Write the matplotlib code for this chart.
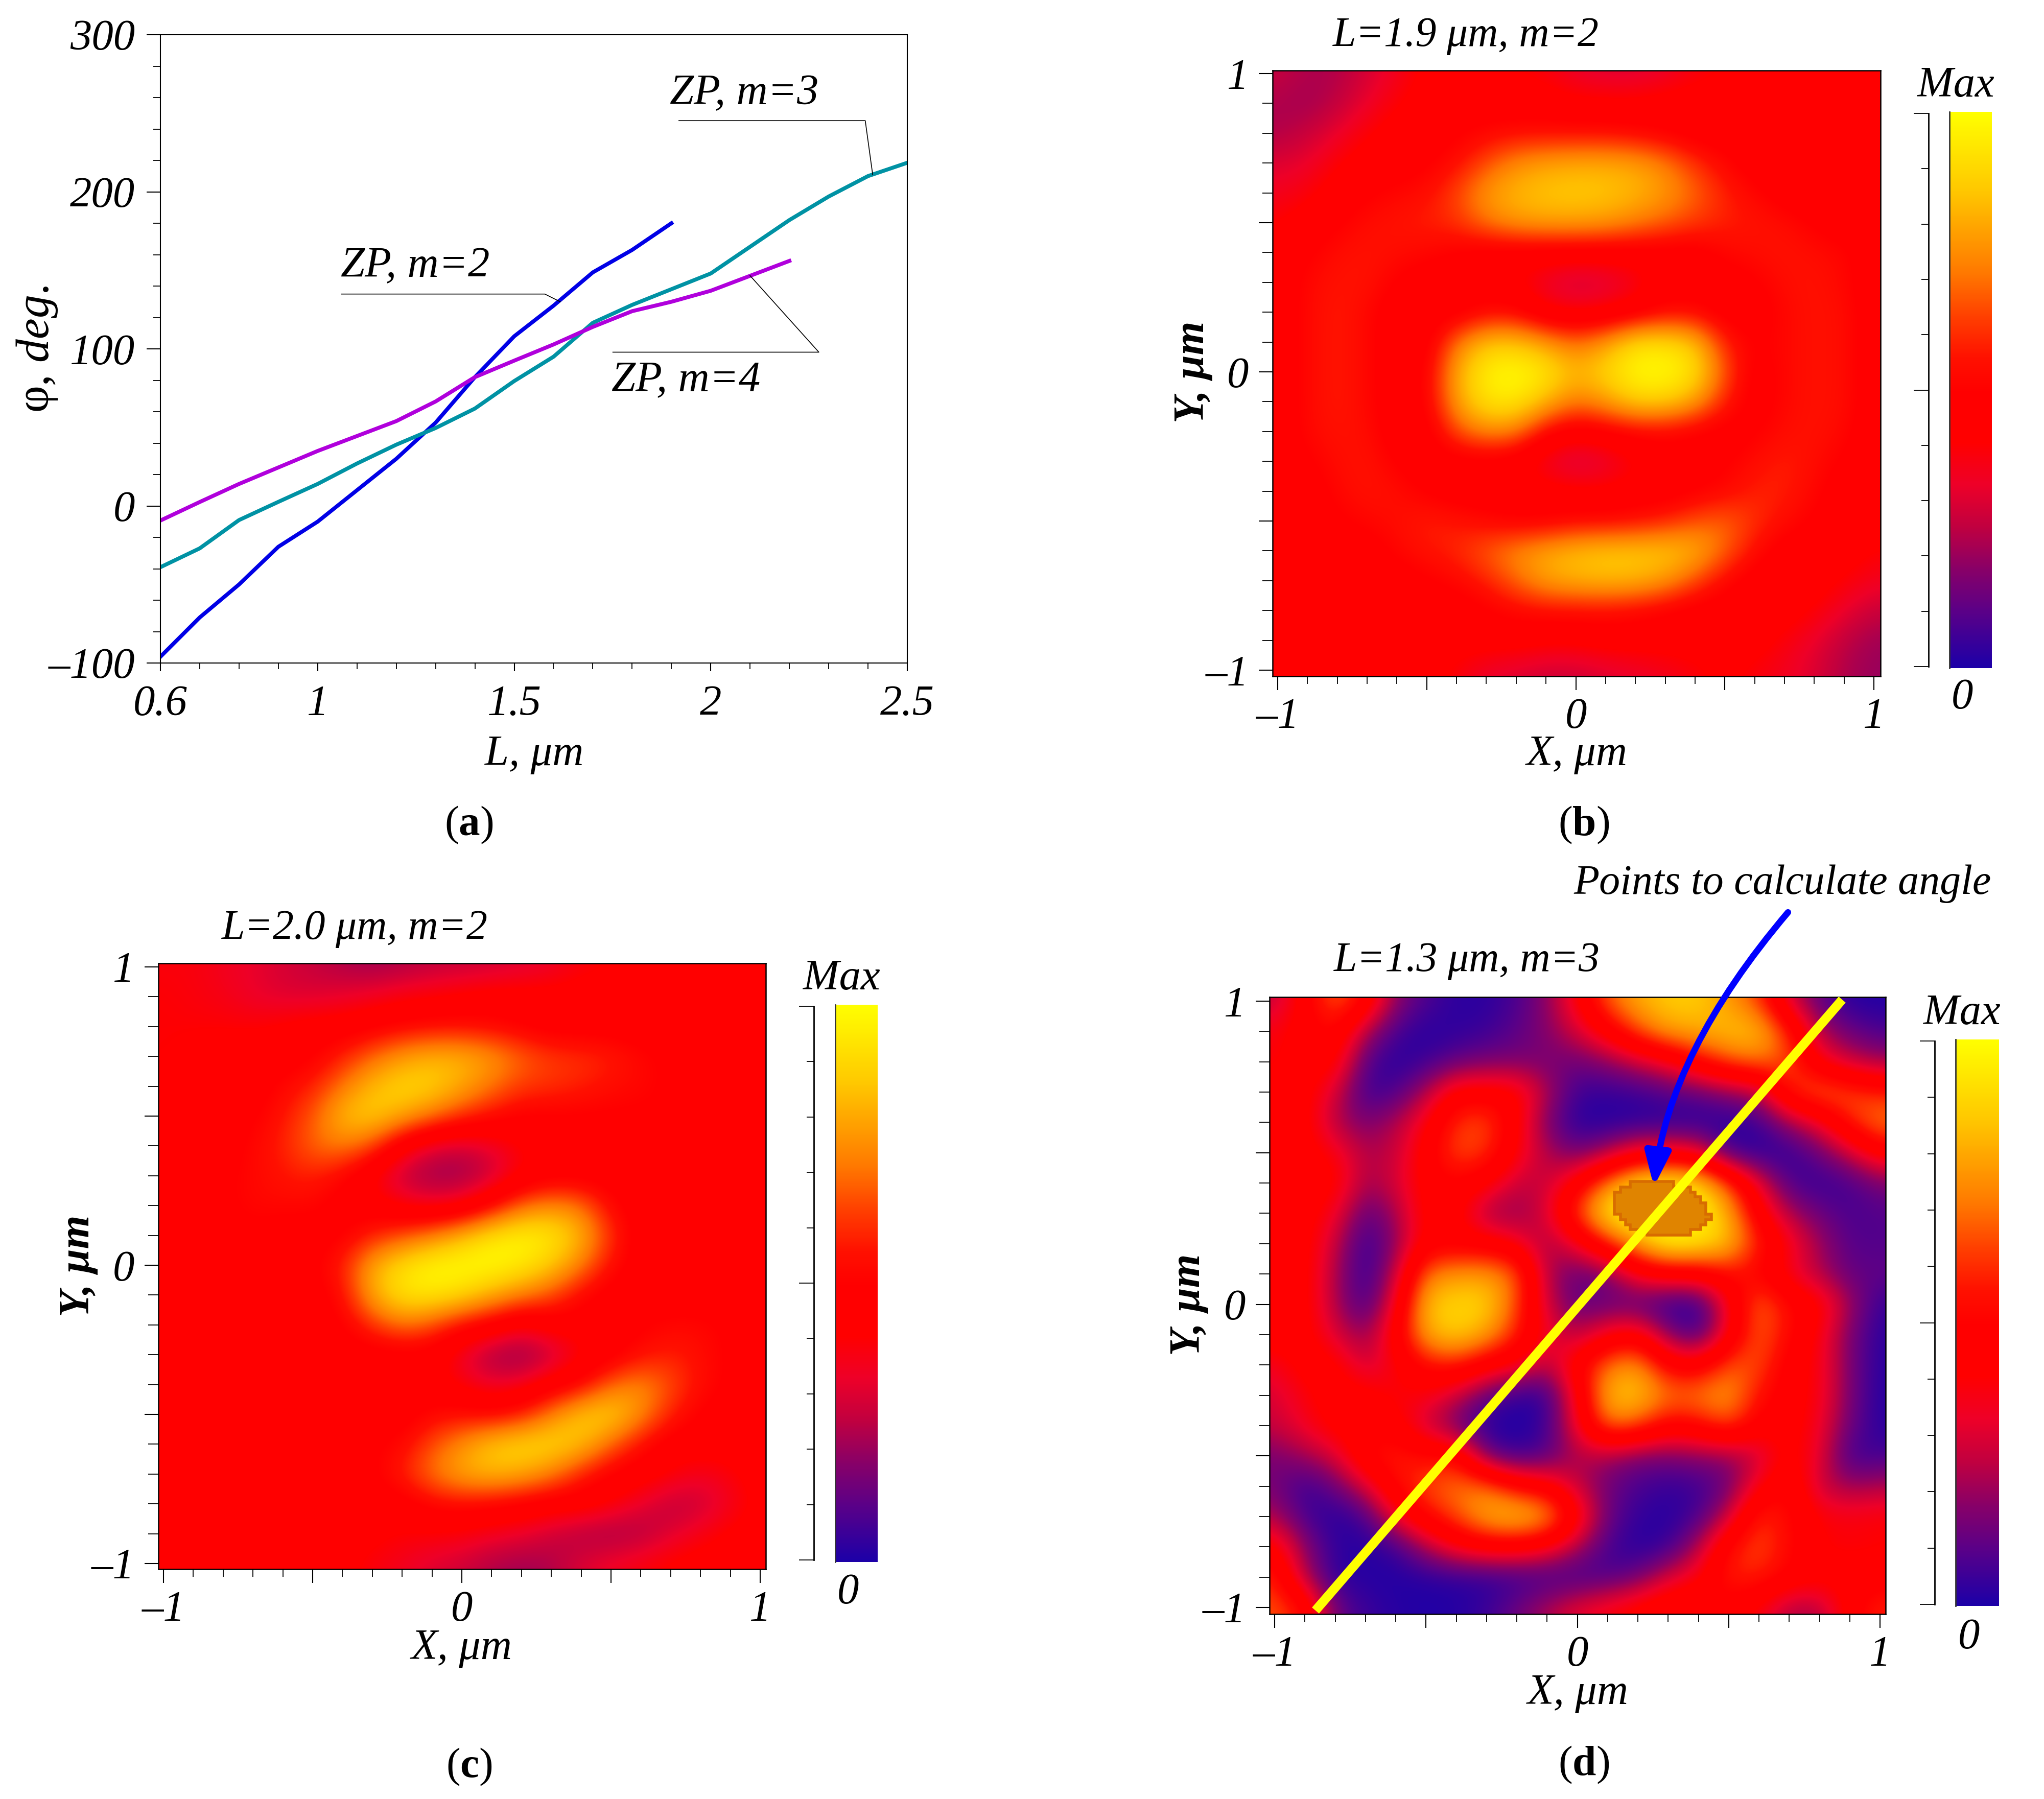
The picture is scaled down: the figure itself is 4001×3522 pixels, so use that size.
import numpy as np
import matplotlib
matplotlib.use('Agg')
import matplotlib.pyplot as plt
from matplotlib.colors import LinearSegmentedColormap, Normalize
from matplotlib.cm import ScalarMappable
from matplotlib.patches import FancyArrowPatch, Polygon
from matplotlib.path import Path
from matplotlib.ticker import FixedLocator, FixedFormatter, NullFormatter

plt.rcParams['font.family'] = ['Liberation Serif', 'DejaVu Serif']
plt.rcParams['mathtext.fontset'] = 'custom'
plt.rcParams['mathtext.rm'] = 'Liberation Serif'
plt.rcParams['mathtext.it'] = 'Liberation Serif:italic'
plt.rcParams['mathtext.bf'] = 'Liberation Serif:bold'

# ---- panel (a) data
L_m2 = [0.6,0.7,0.8,0.9,1.0,1.1,1.2,1.3,1.4,1.5,1.6,1.7,1.8,1.9]
phi_m2 = [-96,-71,-50,-26,-10,10,30,53,82,108,127.5,148.7,163,180]
L_m3 = [0.6,0.7,0.8,0.9,1.0,1.1,1.2,1.3,1.4,1.5,1.6,1.7,1.8,1.9,2.0,2.1,2.2,2.3,2.4,2.5]
phi_m3 = [-39,-27,-9,2.6,14,27,39,49.6,62,79.5,95,116.6,128,138,148,165,182,197,210,218.5]
L_m4 = [0.6,0.7,0.8,0.9,1.0,1.1,1.2,1.3,1.4,1.5,1.6,1.7,1.8,1.9,2.0,2.1,2.2]
phi_m4 = [-9.3,2.5,14,24.5,35,44.5,54,66.5,82,92.5,102.8,114,124,130,137,146.5,156]

# ---- intensity maps as read by eye: rows Y = 1 ... -1, columns X = -1 ... 1, step 0.1
I_b = [
[.33,.3,.3,.35,.4,.44,.45,.45,.43,.42,.38,.36,.36,.38,.42,.43,.45,.45,.45,.45,.45],
[.3,.28,.32,.38,.43,.45,.45,.45,.45,.45,.44,.44,.44,.45,.45,.45,.45,.45,.45,.45,.45],
[.3,.33,.38,.43,.45,.45,.46,.47,.48,.48,.48,.48,.47,.46,.45,.45,.45,.45,.45,.45,.45],
[.36,.38,.43,.45,.45,.46,.48,.55,.65,.7,.72,.72,.7,.62,.52,.47,.45,.45,.45,.45,.45],
[.4,.42,.45,.46,.47,.48,.54,.68,.75,.79,.8,.79,.75,.68,.58,.5,.47,.45,.45,.45,.45],
[.43,.45,.46,.48,.49,.5,.52,.6,.68,.7,.7,.68,.62,.57,.53,.5,.49,.48,.46,.45,.45],
[.45,.46,.48,.49,.48,.47,.46,.45,.45,.45,.45,.45,.45,.45,.45,.47,.48,.49,.48,.47,.45],
[.45,.47,.49,.49,.46,.45,.45,.45,.43,.38,.33,.35,.4,.45,.45,.45,.46,.48,.49,.47,.45],
[.45,.47,.5,.47,.45,.45,.45,.47,.47,.43,.42,.43,.45,.47,.47,.45,.45,.47,.49,.48,.45],
[.45,.47,.5,.47,.45,.45,.6,.78,.78,.68,.58,.68,.88,.88,.78,.5,.46,.47,.49,.48,.45],
[.45,.47,.5,.47,.45,.46,.72,.95,1,.92,.75,.85,.98,1,.9,.56,.45,.47,.49,.48,.45],
[.45,.47,.5,.47,.45,.46,.7,.9,.92,.75,.6,.68,.82,.82,.7,.5,.45,.47,.49,.48,.45],
[.45,.47,.49,.48,.45,.45,.55,.65,.62,.47,.45,.46,.47,.47,.46,.45,.46,.48,.49,.47,.45],
[.45,.46,.48,.49,.46,.45,.45,.45,.44,.38,.33,.36,.42,.45,.45,.46,.48,.5,.48,.46,.45],
[.45,.45,.47,.49,.48,.46,.45,.45,.45,.45,.44,.44,.45,.45,.46,.47,.5,.5,.47,.45,.45],
[.45,.45,.46,.47,.48,.5,.49,.47,.46,.46,.47,.47,.48,.5,.55,.58,.52,.48,.46,.45,.45],
[.45,.45,.45,.45,.47,.49,.51,.57,.65,.72,.77,.8,.8,.8,.75,.58,.48,.45,.45,.45,.43],
[.45,.45,.45,.45,.45,.46,.47,.5,.58,.7,.74,.76,.75,.68,.55,.47,.45,.45,.45,.43,.4],
[.45,.45,.45,.45,.45,.45,.45,.46,.47,.48,.48,.48,.47,.46,.45,.45,.45,.45,.43,.38,.33],
[.45,.45,.45,.45,.45,.45,.45,.45,.45,.44,.44,.45,.45,.45,.45,.45,.45,.42,.38,.32,.28],
[.45,.45,.45,.45,.45,.45,.42,.38,.36,.34,.34,.36,.38,.4,.42,.44,.42,.4,.36,.3,.27],
]
I_c = [
[.42,.42,.4,.38,.35,.33,.3,.28,.3,.32,.33,.34,.36,.38,.42,.43,.45,.45,.45,.45,.45],
[.43,.42,.41,.38,.36,.36,.38,.4,.42,.43,.44,.45,.45,.45,.45,.45,.45,.45,.45,.45,.45],
[.43,.43,.43,.43,.44,.45,.45,.46,.47,.48,.48,.47,.46,.45,.45,.45,.45,.45,.45,.45,.45],
[.43,.44,.45,.45,.45,.46,.5,.58,.68,.74,.74,.68,.58,.53,.52,.5,.47,.46,.45,.45,.45],
[.44,.45,.45,.45,.47,.5,.6,.76,.85,.83,.72,.6,.53,.52,.5,.48,.47,.46,.45,.45,.45],
[.45,.45,.45,.46,.49,.56,.76,.82,.72,.6,.52,.48,.46,.46,.46,.46,.46,.46,.45,.45,.45],
[.45,.45,.45,.47,.5,.58,.62,.55,.44,.36,.34,.38,.43,.45,.45,.45,.45,.45,.45,.45,.45],
[.45,.45,.46,.47,.49,.5,.47,.42,.32,.27,.27,.33,.43,.45,.45,.45,.45,.45,.45,.45,.45],
[.45,.45,.46,.47,.47,.47,.45,.45,.42,.4,.42,.47,.58,.65,.6,.47,.45,.45,.45,.45,.45],
[.45,.45,.45,.46,.45,.45,.46,.5,.55,.62,.75,.9,.97,.92,.75,.52,.45,.45,.45,.45,.45],
[.45,.45,.45,.45,.45,.46,.5,.72,.88,.98,1,1,.93,.8,.62,.48,.45,.45,.45,.45,.45],
[.45,.45,.45,.45,.45,.45,.48,.72,.9,.92,.85,.72,.62,.55,.47,.45,.45,.45,.45,.45,.45],
[.45,.45,.45,.45,.45,.45,.46,.52,.6,.55,.48,.46,.42,.45,.45,.45,.46,.47,.47,.46,.45],
[.45,.45,.45,.45,.45,.45,.45,.45,.45,.45,.38,.28,.25,.32,.42,.45,.48,.5,.48,.46,.45],
[.45,.45,.45,.45,.45,.45,.45,.45,.45,.45,.42,.38,.4,.45,.47,.58,.65,.55,.48,.46,.45],
[.45,.45,.45,.45,.45,.45,.45,.45,.45,.47,.48,.47,.5,.62,.8,.84,.66,.5,.46,.45,.45],
[.45,.45,.45,.45,.45,.45,.45,.46,.47,.55,.66,.8,.86,.86,.78,.58,.48,.45,.45,.45,.45],
[.45,.45,.45,.45,.45,.45,.45,.46,.5,.6,.72,.76,.72,.62,.5,.46,.45,.43,.4,.42,.45],
[.45,.45,.45,.45,.45,.45,.45,.45,.45,.47,.48,.47,.46,.45,.45,.43,.38,.32,.33,.4,.44],
[.45,.45,.45,.45,.45,.45,.45,.44,.43,.43,.42,.4,.38,.34,.3,.28,.3,.36,.41,.44,.45],
[.45,.45,.45,.45,.45,.45,.44,.42,.4,.36,.34,.3,.28,.3,.36,.4,.42,.44,.45,.45,.45],
]
I_d = [
[.32,.45,.58,.47,.25,.14,.05,.05,.13,.25,.43,.57,.72,.8,.8,.68,.53,.35,.18,.03,.02],
[.42,.45,.47,.3,.12,.03,.06,.1,.17,.24,.35,.45,.55,.7,.72,.78,.78,.5,.3,.2,.13],
[.42,.45,.45,.15,.03,.1,.18,.22,.22,.22,.2,.25,.33,.4,.47,.55,.6,.55,.42,.33,.28],
[.45,.45,.35,.1,.13,.3,.45,.45,.45,.3,.1,.08,.1,.15,.18,.25,.3,.5,.6,.55,.5],
[.45,.45,.3,.22,.3,.42,.52,.55,.44,.22,.03,.02,.03,.03,.03,.03,.1,.28,.38,.5,.62],
[.45,.45,.42,.3,.33,.45,.55,.52,.43,.3,.2,.3,.42,.42,.4,.1,.03,.06,.2,.33,.45],
[.45,.45,.45,.28,.35,.45,.46,.44,.33,.33,.45,.62,.88,.95,.85,.55,.38,.13,.08,.12,.22],
[.45,.45,.4,.16,.28,.45,.45,.28,.25,.36,.55,.92,1,1,1,.72,.45,.3,.2,.13,.15],
[.45,.45,.33,.06,.25,.45,.45,.45,.42,.28,.4,.5,.7,.95,.9,.78,.5,.42,.28,.15,.15],
[.45,.45,.3,.05,.32,.6,.68,.68,.58,.3,.18,.22,.42,.45,.45,.48,.46,.4,.3,.18,.18],
[.45,.45,.3,.1,.4,.78,.84,.84,.55,.33,.18,.18,.15,.03,.02,.4,.6,.47,.45,.28,.08],
[.45,.45,.36,.25,.45,.72,.82,.7,.5,.4,.3,.42,.45,.25,.1,.42,.58,.47,.42,.22,.05],
[.4,.45,.45,.33,.42,.48,.5,.45,.42,.3,.46,.6,.68,.46,.45,.56,.55,.45,.42,.22,.04],
[.35,.42,.45,.45,.42,.42,.33,.18,.05,.06,.42,.76,.8,.6,.62,.7,.48,.45,.42,.22,.03],
[.33,.4,.45,.45,.45,.33,.2,.02,.0,.1,.4,.6,.55,.46,.47,.55,.45,.45,.4,.2,.04],
[.22,.28,.35,.47,.5,.47,.48,.2,.08,.15,.3,.28,.22,.22,.25,.25,.33,.45,.38,.1,.12],
[.22,.08,.2,.35,.47,.55,.6,.6,.47,.45,.33,.2,.13,.08,.1,.2,.42,.47,.33,.27,.3],
[.3,.12,.03,.12,.4,.47,.55,.74,.82,.72,.45,.2,.07,.03,.12,.33,.52,.47,.43,.42,.43],
[.45,.25,.06,.03,.1,.3,.42,.45,.45,.42,.3,.12,.03,.08,.3,.48,.55,.47,.43,.42,.43],
[.5,.3,.05,.03,.02,.03,.05,.05,.08,.1,.1,.13,.2,.35,.42,.5,.5,.46,.45,.45,.45],
[.55,.48,.2,.1,.04,.02,.03,.1,.2,.3,.38,.42,.45,.47,.47,.45,.42,.3,.3,.45,.5],
]
# correction of the eye readings against the colour bar
read_level = [0, .1, .2, .3, .35, .4, .43, .45, .47, .5, .55, .6, .7, .8, 1]
true_level = [0, .05, .13, .23, .29, .35, .40, .45, .52, .58, .65, .71, .79, .87, 1]

# saturated calculation region in (d)
region_x = [.175,.318,.318,.373,.373,.389,.389,.407,.407,.425,.425,.443,.443,.425,.425,.407,.407,.373,.373,.230,.230,.175,.175,.159,.159,.142,.142,.123,.123,.142,.142,.175]
region_y = [.405,.405,.387,.387,.369,.369,.354,.354,.335,.335,.298,.298,.279,.279,.262,.262,.246,.246,.229,.229,.246,.246,.262,.262,.279,.279,.298,.298,.369,.369,.387,.387]
line_x = [-0.865, 0.875]
line_y = [-1.01, 1.005]

cmap_pos = [0, .10, .177, .253, .33, .405, .496, .557, .633, .71, .785, .86, 1]
cmap_col = ['#1c00a8', '#5a0088', '#880068', '#c00040', '#ee0028', '#ff0000', '#ff0000',
            '#ff1000', '#ff4000', '#ff7800', '#ffa000', '#ffc800', '#ffff00']

W, H = 4001, 3522
fig = plt.figure(figsize=(W/100, H/100), dpi=100, facecolor='white')
PX = 72/100
FS = 61


def axpx(l, t, r, b, **kw):
    return fig.add_axes([l/W, 1-b/H, (r-l)/W, (b-t)/H], **kw)


def T(x, y, s, size=FS, **kw):
    kw.setdefault('style', 'italic')
    return fig.text(x/W, 1-y/H, s, ha='center', va='center', fontsize=size, color='black', **kw)


# ---------- (a)
axa = axpx(314, 68, 1776, 1298)
axa.plot(L_m2, phi_m2, color='#0000e6', lw=5.5, solid_joinstyle='round')
axa.plot(L_m3, phi_m3, color='#0092a4', lw=5.5, solid_joinstyle='round')
axa.plot(L_m4, phi_m4, color='#b000dc', lw=5.5, solid_joinstyle='round')
axa.set_xlim(0.6, 2.5)
axa.set_ylim(-100, 300)
axa.xaxis.set_major_locator(FixedLocator([0.6, 1, 1.5, 2, 2.5]))
axa.xaxis.set_major_formatter(FixedFormatter(['0.6', '1', '1.5', '2', '2.5']))
axa.xaxis.set_minor_locator(FixedLocator(np.arange(0.7, 2.45, 0.1)))
axa.yaxis.set_major_locator(FixedLocator([-100, 0, 100, 200, 300]))
axa.yaxis.set_major_formatter(FixedFormatter(['–100', '0', '100', '200', '300']))
axa.yaxis.set_minor_locator(FixedLocator(np.arange(-100, 301, 20)))
axa.tick_params(axis='y', which='major', length=27*PX, width=1.5, pad=23*PX, labelsize=FS)
axa.tick_params(axis='y', which='minor', length=14*PX, width=1.3)
axa.tick_params(axis='x', which='major', length=16*PX, width=1.5, pad=27*PX, labelsize=FS)
axa.tick_params(axis='x', which='minor', length=12*PX, width=1.3)
for lab in axa.get_xticklabels() + axa.get_yticklabels():
    lab.set_style('italic')
for sp in axa.spines.values():
    sp.set_linewidth(1.5)
lk = dict(color='black', lw=1.2, clip_on=False)
axa.plot([1.919, 2.393, 2.412], [245.3, 245.3, 210.8], **lk)
axa.plot([1.061, 1.578, 1.617], [134.9, 134.9, 130], **lk)
axa.plot([1.751, 2.275, 2.10], [97.9, 97.9, 146.6], **lk)
T(1457, 184, 'ZP, m=3')
T(813, 522, 'ZP, m=2')
T(1343, 745, 'ZP, m=4')
T(1046, 1478, 'L, μm')
T(72, 683, 'φ, $deg.$', rotation=90, style='normal', size=66)
T(918, 1615, r'($\mathbf{a}$)', size=60, style='normal')

cmap = LinearSegmentedColormap.from_list('wave', list(zip(cmap_pos, cmap_col)), N=512)
norm = Normalize(0, 1)


def field(I, box, ticks, bar, ruler):
    l, t, r, b = box
    xm1, x1, y1, ym1 = ticks
    ax = axpx(l, t, r, b)
    Z = np.interp(np.array(I), read_level, true_level)
    ax.imshow(Z, extent=(-1.05, 1.05, -1.05, 1.05), cmap=cmap, norm=norm,
              interpolation='bicubic', aspect='auto', origin='upper')
    ux = (x1 - xm1)/2
    uy = (ym1 - y1)/2
    ax.set_xlim(-1 + (l - xm1)/ux, 1 + (r - x1)/ux)
    ax.set_ylim(-1 - (b - ym1)/uy, 1 + (y1 - t)/uy)
    for axis in (ax.xaxis, ax.yaxis):
        axis.set_major_locator(FixedLocator([-1, -.5, 0, .5, 1]))
        axis.set_major_formatter(FixedFormatter(['–1', '', '0', '', '1']))
        axis.set_minor_locator(FixedLocator(np.arange(-1, 1.01, .1)))
    ax.tick_params(axis='x', which='major', length=27*PX, width=1.5, pad=15*PX, labelsize=FS)
    ax.tick_params(axis='x', which='minor', length=15*PX, width=1.3)
    ax.tick_params(axis='y', which='major', length=27*PX, width=1.5, pad=20*PX, labelsize=FS)
    ax.tick_params(axis='y', which='minor', length=20*PX, width=1.3)
    for lab in ax.get_xticklabels() + ax.get_yticklabels():
        lab.set_style('italic')
    for sp in ax.spines.values():
        sp.set_linewidth(1.8)
    # colour bar
    cax = axpx(*bar)
    cb = fig.colorbar(ScalarMappable(norm=norm, cmap=cmap), cax=cax)
    cb.outline.set_visible(False)
    cax.set_yticks([])
    cax.axvline(0, color='#333333', lw=2, clip_on=False)
    # ruler beside the bar
    rx, rt, rb = ruler
    rax = axpx(rx - 1, rt, rx, rb)
    rax.set_ylim(0, 1)
    rax.set_xticks([])
    rax.yaxis.set_major_locator(FixedLocator([0, .5, 1]))
    rax.yaxis.set_minor_locator(FixedLocator(np.arange(0, 1.01, .1)))
    rax.yaxis.set_major_formatter(NullFormatter())
    rax.tick_params(axis='y', which='major', length=29*PX, width=1.3)
    rax.tick_params(axis='y', which='minor', length=14*PX, width=1.3)
    for k in ('top', 'bottom', 'right'):
        rax.spines[k].set_visible(False)
    rax.spines['left'].set_linewidth(2)
    rax.patch.set_visible(False)
    return ax


# ---------- (b)
field(I_b, (2491, 138, 3681, 1324), (2501, 3668, 144, 1312), (3816, 219, 3899, 1308), (3776, 222, 1305))
T(2869, 70, 'L=1.9 μm, m=2', size=59)
T(3087, 1478, 'X, μm')
T(2335, 728, 'Y, μm', rotation=90, weight='bold')
T(3828, 168, 'Max')
T(3841, 1366, '0')
T(3100, 1615, r'($\mathbf{b}$)', size=60, style='normal')

# ---------- (c)
field(I_c, (310, 1886, 1499, 3072), (320, 1488, 1893, 3061), (1635, 1967, 1718, 3058), (1594, 1970, 3054))
T(694, 1818, 'L=2.0 μm, m=2', size=59)
T(904, 3227, 'X, μm')
T(154, 2478, 'Y, μm', rotation=90, weight='bold')
T(1647, 1916, 'Max')
T(1660, 3118, '0')
T(918, 3459, r'($\mathbf{c}$)', size=60, style='normal')

# ---------- (d)
axd = field(I_d, (2485, 1952, 3691, 3160), (2495, 3680, 1960, 3147), (3828, 2035, 3913, 3144), (3788, 2038, 3141))
axd.add_patch(Polygon(np.column_stack([region_x, region_y]), closed=True,
                      facecolor='#e08400', edgecolor='#d86c00', lw=4, zorder=3))
axd.plot(line_x, line_y, color='#ffff00', lw=13, solid_capstyle='butt', zorder=4)
arrow_x = [0.696, 0.302, 0.253]
arrow_y = [1.293, 0.830, 0.388]
arrow = FancyArrowPatch(path=Path(np.column_stack([arrow_x, arrow_y]), [Path.MOVETO, Path.CURVE3, Path.CURVE3]),
                        arrowstyle='-|>,head_length=40,head_width=15', mutation_scale=1,
                        color='#0000ff', lw=9, transform=axd.transData, clip_on=False, zorder=5)
axd.add_patch(arrow)
T(2871, 1881, 'L=1.3 μm, m=3', size=59)
T(3489, 1730, 'Points to calculate angle', size=59)
T(3089, 3316, 'X, μm')
T(2328, 2554, 'Y, μm', rotation=90, weight='bold')
T(3840, 1984, 'Max')
T(3854, 3206, '0')
T(3100, 3455, r'($\mathbf{d}$)', size=60, style='normal')

fig.savefig('out.png', dpi=100, facecolor='white')
